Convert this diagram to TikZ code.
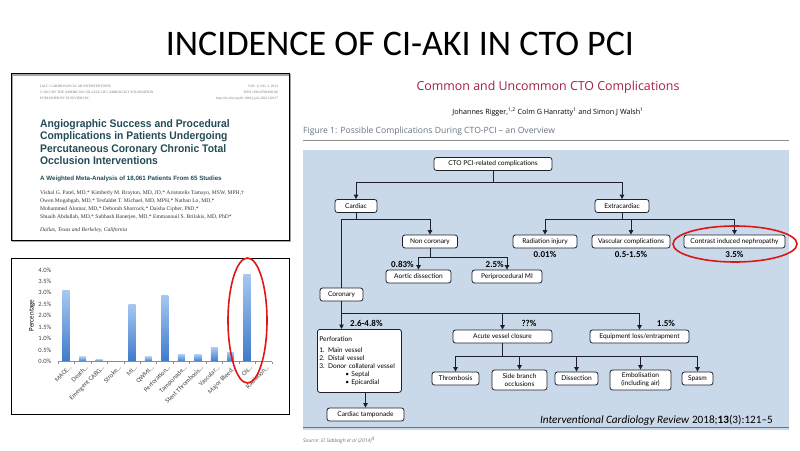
\documentclass[tikz,border=0pt]{standalone}
\usepackage{fontspec}
\setmainfont{Carlito}
\newfontfamily\boxfont{Lato}
\newfontfamily\paperfont{Liberation Sans}
\newfontfamily\authfont{Liberation Serif}
\newfontfamily\headfont{Open Sans}
\usetikzlibrary{arrows.meta}
\definecolor{crimson}{RGB}{163,32,64}
\definecolor{panelblue}{RGB}{201,217,234}
\definecolor{capgray}{RGB}{105,115,130}
\definecolor{teal}{RGB}{35,75,85}
\definecolor{bartop}{RGB}{165,200,242}
\definecolor{barbot}{RGB}{62,122,202}
\definecolor{flowline}{RGB}{30,32,45}
\definecolor{cired}{RGB}{222,22,22}
\tikzset{%
	fbox/.style={draw=flowline,fill=white,rounded corners=2.5pt,line width=0.8pt,
		font=\boxfont\fontsize{6.6}{8}\selectfont,inner sep=0pt,minimum height=13pt,align=center},
	pct/.style={font=\fontsize{9}{10}\selectfont\bfseries,inner sep=0pt},
	ln/.style={draw=flowline,line width=0.9pt},
	arr/.style={ln,-{Triangle[length=4.5pt,width=4.5pt]}},
	ptitle/.style={font=\paperfont\fontsize{11}{12}\selectfont\bfseries,text=teal,inner sep=0pt},
	auth/.style={font=\authfont\fontsize{5.6}{6}\selectfont,text=black!80,inner sep=0pt},
	tiny/.style={font=\authfont\fontsize{3.5}{4}\selectfont,text=black!55,inner sep=0pt},
	tick/.style={font=\fontsize{6.5}{7}\selectfont,text=black!75,inner sep=0.5pt}
}

\begin{document}
\begin{tikzpicture}[x=1pt,y=-1pt]
\useasboundingbox (0,0) rectangle (800,450);
\node[anchor=base,font=\fontsize{36}{40}\selectfont,inner sep=0pt] (title) at (400,55) {INCIDENCE OF CI-AKI IN CTO PCI};

% paper front page
\draw[black!35,line width=1.4pt] (12.5,75) rectangle (290.5,241.5);
\draw[line width=0.9pt] (11,73) rectangle (289,240);
\node[tiny,anchor=base west] (h1) at (40,87) {JACC: CARDIOVASCULAR INTERVENTIONS};
\node[tiny,anchor=base west] (h2) at (40,93) {\textcopyright\ 2013 BY THE AMERICAN COLLEGE OF CARDIOLOGY FOUNDATION};
\node[tiny,anchor=base west] (h3) at (40,99) {PUBLISHED BY ELSEVIER INC.};
\node[tiny,anchor=base east] (h4) at (278,87) {VOL. 6, NO. 2, 2013};
\node[tiny,anchor=base east] (h5) at (278,93) {ISSN 1936-8798/\$36.00};
\node[tiny,anchor=base east] (h6) at (278,99) {http://dx.doi.org/10.1016/j.jcin.2012.10.017};
\node[ptitle,anchor=base west] (pt1) at (40,127) {\scalebox{.94}[1]{Angiographic Success and Procedural}};
\node[ptitle,anchor=base west] (pt2) at (40,139.5) {\scalebox{.94}[1]{Complications in Patients Undergoing}};
\node[ptitle,anchor=base west] (pt3) at (40,152) {\scalebox{.94}[1]{Percutaneous Coronary Chronic Total}};
\node[ptitle,anchor=base west] (pt4) at (40,164.5) {\scalebox{.94}[1]{Occlusion Interventions}};
\node[ptitle,font=\paperfont\fontsize{6.2}{7}\selectfont\bfseries,anchor=base west] (psub) at (40,180) {A Weighted Meta-Analysis of 18,061 Patients From 65 Studies};
\node[auth,anchor=base west] (a1) at (40,194.5) {Vishal G. Patel, MD,* Kimberly M. Brayton, MD, JD,* Aristotelis Tamayo, MSW, MPH,\textdagger};
\node[auth,anchor=base west] (a2) at (40,202.5) {Owen Mogabgab, MD,* Tesfaldet T. Michael, MD, MPH,* Nathan Lo, MD,*};
\node[auth,anchor=base west] (a3) at (40,210.5) {Mohammed Alomar, MD,* Deborah Shorrock,* Daisha Cipher, PhD,*};
\node[auth,anchor=base west] (a4) at (40,218.5) {Shuaib Abdullah, MD,* Subhash Banerjee, MD,* Emmanouil S. Brilakis, MD, PhD*};
\node[auth,font=\authfont\itshape\fontsize{5.6}{6}\selectfont,anchor=base west] (a5) at (40,231) {Dallas, Texas and Berkeley, California};

% bar chart
\draw[line width=0.9pt] (11,258) rectangle (289,414);
\node[rotate=90,font=\fontsize{7}{8}\selectfont] (ylab) at (32,315.5) {Percentage};
\foreach \p [count=\i from 0] in {0.0,0.5,1.0,1.5,2.0,2.5,3.0,3.5,4.0}
	\node[tick,anchor=east] (yl\i) at (52,{361.5-11.45*\i}) {\p\%};
\foreach \v [count=\i] in {3.1,0.2,0.1,0.01,2.5,0.2,2.9,0.3,0.3,0.6,0.4,3.8,0.01}
	\shade[top color=bartop,bottom color=barbot] ({58+16.45*(\i-0.5)-3.5},361.5) rectangle ++(7,{-22.9*\v});
\draw[black!45,line width=0.5pt] (58,361.5) -- (272,361.5);
\foreach \i in {0,...,13}
	\draw[black!45,line width=0.5pt] ({58+16.45*\i},361.5) -- ++(0,2.5);
\foreach \t [count=\i] in {MACE…,Death…,Emergent CABG…,Stroke…,MI…,QWMI…,Perforation…,Tamponade…,Stent Thrombosis…,Vascular…,Major Bleed…,CN…,Radiation…}
	\node[tick,anchor=north east,rotate=45] (tk\i) at ({58+16.45*(\i-0.5)+2.5},364) {\t};
\draw[cired,line width=1.6pt] (247.5,320.5) ellipse [x radius=19.5pt,y radius=62.5pt];

% review figure
\node[font=\headfont\fontsize{12.4}{14}\selectfont,text=crimson] (rtitle) at (548,87) {Common and Uncommon CTO Complications};
\node[font=\headfont\fontsize{7.2}{8}\selectfont] (rauth) at (548,112) {Johannes Rigger,\textsuperscript{1,2} Colm G Hanratty\textsuperscript{1} and Simon J Walsh\textsuperscript{1}};
\node[font=\headfont\fontsize{8.6}{9}\selectfont,text=capgray,anchor=west,inner sep=0pt] (rcap) at (303,131) {Figure 1: Possible Complications During CTO-PCI – an Overview};
\draw[black!45,line width=0.8pt] (303,140) -- (789,140);
\fill[panelblue] (303,150) rectangle (789,430);
\draw[capgray,line width=0.8pt] (303,427.5) -- (789,427.5);
\node[font=\headfont\itshape\fontsize{5}{6}\selectfont,text=black!55,anchor=west,inner sep=0pt] (src) at (303,440) {Source: El Sabbagh et al (2014)\textsuperscript{4}};
\node[font=\fontsize{11.2}{12}\selectfont,anchor=base east,inner sep=0pt] (jrnl) at (773,423) {\textit{Interventional Cardiology Review} 2018;\textbf{13}(3):121–5};

\node[fbox,minimum width=118pt] (root) at (493,164) {CTO PCI-related complications};
\node[fbox,minimum width=42pt] (cardiac) at (356,206) {Cardiac};
\node[fbox,minimum width=54pt] (extra) at (622,206) {Extracardiac};
\node[fbox,minimum width=55pt] (noncor) at (430,241.5) {Non coronary};
\node[fbox,minimum width=64pt] (radiation) at (545,241.5) {Radiation injury};
\node[fbox,minimum width=78pt] (vascular) at (631,241.5) {Vascular complications};
\node[fbox,minimum width=101pt] (cin) at (734.5,241.5) {Contrast induced nephropathy};
\node[fbox,minimum width=65pt] (aortic) at (418.5,276.5) {Aortic dissection};
\node[fbox,minimum width=70pt] (mi) at (507,276.5) {Periprocedural MI};
\node[fbox,minimum width=43pt] (coronary) at (341.5,294.5) {Coronary};
\node[fbox,minimum width=84pt,minimum height=63pt,align=left,anchor=north west,text width=80pt] (perf) at (317,329)
	{Perforation\\[3pt]1. Main vessel\\2. Distal vessel\\3. Donor collateral vessel\\\hspace*{26pt}\textbullet\ Septal\\\hspace*{26pt}\textbullet\ Epicardial};
\node[fbox,minimum width=77pt] (tamponade) at (365.5,414.5) {Cardiac tamponade};
\node[fbox,minimum width=99pt] (acute) at (502.5,336.5) {Acute vessel closure};
\node[fbox,minimum width=99pt] (equip) at (639.5,336.5) {Equipment loss/entrapment};
\node[fbox,minimum width=47pt] (thromb) at (455.5,378.5) {Thrombosis};
\node[fbox,minimum width=55pt,minimum height=20pt] (side) at (519.5,380) {Side branch\\occlusions};
\node[fbox,minimum width=43pt] (dissect) at (576.5,378.5) {Dissection};
\node[fbox,minimum width=61pt,minimum height=20pt] (embol) at (640.5,380) {Embolisation\\(including air)};
\node[fbox,minimum width=31pt] (spasm) at (697.5,378.5) {Spasm};

\coordinate (j1) at (493,182);
\coordinate (j2) at (356,219);
\coordinate (j3) at (622,219);
\coordinate (j4) at (430,257);
\coordinate (j5) at (341.5,313);
\coordinate (j6) at (502.5,356);
\draw[ln] (root) -- (j1);
\draw[arr] (j1) -| (cardiac);
\draw[arr] (j1) -| (extra);
\draw[ln] (cardiac) -- (j2);
\draw[arr] (j2) -| (noncor);
\draw[ln] (j2) -| (coronary);
\draw[ln] (extra) -- (j3);
\draw[arr] (j3) -| (radiation);
\draw[arr] (j3) -| (vascular);
\draw[arr] (j3) -| (cin);
\draw[ln] (noncor) -- (j4);
\draw[arr] (j4) -| (aortic);
\draw[arr] (j4) -| (mi);
\draw[ln] (coronary) -- (j5);
\draw[arr] (j5) -- (j5 |- perf.north);
\draw[arr] (j5) -| (acute);
\draw[arr] (j5) -| (equip);
\draw[arr] (tamponade.north |- perf.south) -- (tamponade);
\draw[ln] (acute) -- (j6);
\draw[arr] (j6) -| (thromb);
\draw[arr] (j6) -| (side);
\draw[arr] (j6) -| (dissect);
\draw[arr] (j6) -| (embol);
\draw[arr] (j6) -| (spasm);

\node[pct] (p1) at (545,254) {0.01\%};
\node[pct] (p2) at (631,254) {0.5-1.5\%};
\node[pct] (p3) at (734.5,254) {3.5\%};
\node[pct,anchor=east] (p4) at (414,264) {0.83\%};
\node[pct,anchor=east] (p5) at (504,264) {2.5\%};
\node[pct,anchor=west] (p6) at (350,323) {2.6-4.8\%};
\node[pct] (p7) at (529,323) {??\%};
\node[pct] (p8) at (666,323) {1.5\%};
\draw[cired,line width=1.6pt] (735,244) ellipse [x radius=62pt,y radius=18pt];
\end{tikzpicture}
\end{document}
